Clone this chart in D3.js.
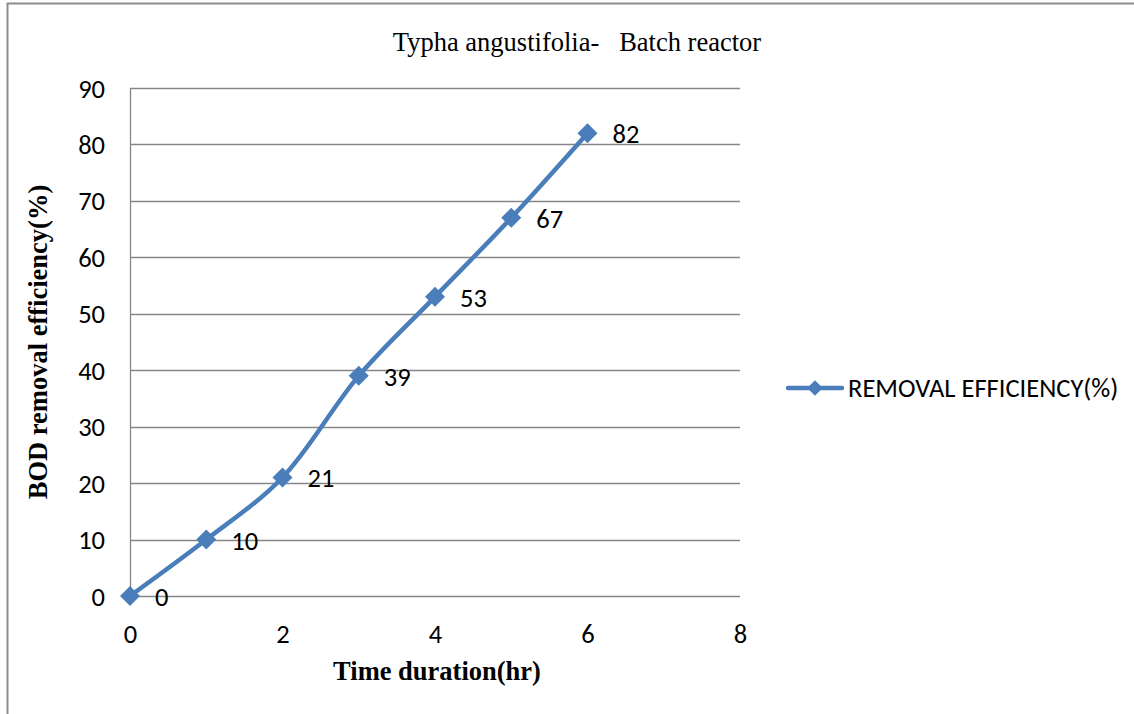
<!DOCTYPE html>
<html><head><meta charset="utf-8">
<script src="https://cdn.jsdelivr.net/npm/d3@7"></script>
<style>body{margin:0;background:#fff}</style>
</head><body>
<svg id="c" width="1134" height="714"></svg>
<script>
const timeHr = [0, 1, 2, 3, 4, 5, 6];
const removalEff = [0, 10, 21, 39, 53, 67, 82];
const xTicks = [0, 2, 4, 6, 8];
const yTicks = [0, 10, 20, 30, 40, 50, 60, 70, 80, 90];
const seriesName = "REMOVAL EFFICIENCY(%)";
const title = "Typha angustifolia-   Batch reactor";
const xTitle = "Time duration(hr)";
const yTitle = "BOD removal efficiency(%)";

const svg = d3.select("#c");
const W = 1134, H = 714;
const L = 130, R = 740, T = 88, B = 596;
const blue = "#4a7ebb", grid = "#868686";
const sans = "Carlito, 'Open Sans', 'Noto Sans', sans-serif";
const serif = "'Liberation Serif', 'Times New Roman', serif";
const fs = 26.5;

// outer border (left & top)
svg.append("path").attr("d", `M7.5,${H}V3.5H${W}`).attr("fill","none").attr("stroke","#8c8c8c").attr("stroke-width",2);

const x = d3.scaleLinear().domain([0, 8]).range([L, R]);
const y = d3.scaleLinear().domain([0, 90]).range([B, T]);

// gridlines
svg.append("g").selectAll("line").data(yTicks).join("line")
  .attr("x1", L).attr("x2", R).attr("y1", d => Math.round(y(d))+0.5).attr("y2", d => Math.round(y(d))+0.5)
  .attr("stroke", grid).attr("stroke-width", 1.3);
// y axis line
svg.append("line").attr("x1", L+0.5).attr("x2", L+0.5).attr("y1", T).attr("y2", B).attr("stroke", grid).attr("stroke-width",1.3);

// axes with d3 (labels only)
const yAxis = svg.append("g").attr("transform", `translate(${L},0)`)
  .call(d3.axisLeft(y).tickValues(yTicks).tickSize(0).tickPadding(25));
yAxis.select(".domain").remove();
yAxis.selectAll("text").attr("font-family", sans).attr("font-size", fs).attr("fill","#000").attr("dy","0.34em");

const xAxis = svg.append("g").attr("transform", `translate(0,${B})`)
  .call(d3.axisBottom(x).tickValues(xTicks).tickSize(0).tickPadding(0));
xAxis.select(".domain").remove();
xAxis.selectAll("text").attr("font-family", sans).attr("font-size", fs).attr("fill","#000").attr("dy", 0).attr("y", 47);

// titles
svg.append("text").attr("x", 577).attr("y", 51).attr("text-anchor","middle")
  .attr("font-family", serif).attr("font-size", fs).attr("xml:space","preserve").text(title);
svg.append("text").attr("x", 437).attr("y", 680).attr("text-anchor","middle")
  .attr("font-family", serif).attr("font-size", fs).attr("font-weight","bold").text(xTitle);
svg.append("text").attr("transform", `translate(47,342) rotate(-90)`).attr("text-anchor","middle")
  .attr("font-family", serif).attr("font-size", fs).attr("font-weight","bold").text(yTitle);

const data = timeHr.map((t, i) => ({t, v: removalEff[i]}));
const line = d3.line().x(d => x(d.t)).y(d => y(d.v)).curve(d3.curveCatmullRom.alpha(0.5));
svg.append("path").datum(data).attr("d", line).attr("fill","none").attr("stroke", blue).attr("stroke-width", 4.5).attr("stroke-linejoin","round");

const marker = d3.symbol().type(d3.symbolSquare).size(200);
svg.append("g").selectAll("path").data(data).join("path")
  .attr("transform", d => `translate(${x(d.t)},${y(d.v)}) rotate(45)`)
  .attr("d", marker).attr("fill", blue);

svg.append("g").selectAll("text").data(data).join("text")
  .attr("x", d => x(d.t) + 25).attr("y", d => y(d.v) + 10)
  .attr("font-family", sans).attr("font-size", fs).attr("fill","#000").text(d => d.v);

// legend
const ly = 388;
svg.append("line").attr("x1", 788).attr("x2", 842).attr("y1", ly).attr("y2", ly).attr("stroke", blue).attr("stroke-width", 4.5).attr("stroke-linecap","round");
svg.append("path").attr("transform", `translate(815,${ly}) rotate(45)`).attr("d", d3.symbol().type(d3.symbolSquare).size(120)).attr("fill", blue);
svg.append("text").attr("x", 848).attr("y", ly + 9).attr("font-family", sans).attr("font-size", fs).text(seriesName);
</script>
</body></html>
